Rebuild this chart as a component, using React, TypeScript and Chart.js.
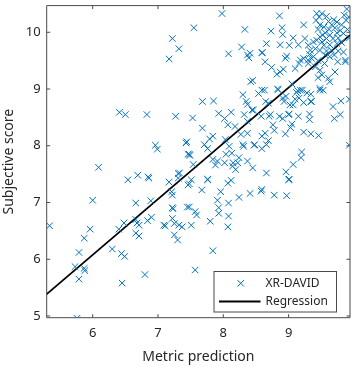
import React, { useEffect, useRef } from "react";
import { Chart, registerables } from "chart.js";

Chart.register(...registerables);

// XR-DAVID points: [metric prediction, subjective score]
const xrDavidPoints: [number, number][] = [
  [5.34, 6.59], [6.0, 7.04], [5.79, 6.12], [5.87, 6.37], [5.96, 6.53], [5.73, 5.87], [5.87, 5.84], [5.88, 5.8], [5.79, 5.65], [5.76, 4.96],
  [6.3, 6.18], [6.4, 6.53], [6.48, 6.64], [6.44, 6.1], [6.49, 6.05], [6.45, 5.58], [6.66, 6.99], [6.66, 6.7], [6.68, 6.64], [6.71, 6.6],
  [6.66, 6.46], [6.71, 6.41], [6.84, 6.68], [6.9, 6.74], [6.89, 7.03], [6.8, 5.73], [7.09, 6.6], [7.17, 7.36], [7.23, 6.89], [7.22, 7.13],
  [7.21, 7.19], [7.22, 6.72], [7.25, 6.63], [7.25, 6.43], [7.3, 6.34], [6.54, 7.4], [6.69, 7.48], [6.85, 7.45], [6.86, 7.43], [7.31, 7.51],
  [7.31, 7.43], [6.09, 7.62], [6.41, 8.59], [6.5, 8.55], [6.83, 8.55], [6.96, 8.01], [6.99, 7.94], [7.17, 9.53], [7.22, 9.89], [7.32, 9.71],
  [7.27, 8.52], [7.11, 6.59], [7.32, 6.6], [7.22, 6.91], [7.45, 6.92],
  [7.48, 7.33], [7.46, 7.31], [7.67, 7.22], [7.76, 7.4], [8.07, 7.34], [8.12, 7.39], [7.96, 7.19], [8.24, 7.09], [8.41, 7.16], [8.58, 7.2],
  [8.78, 7.13], [8.97, 7.12], [9.0, 7.4], [7.91, 7.04], [8.08, 6.99], [7.93, 6.91], [7.93, 6.81], [8.08, 6.76], [8.07, 6.57], [7.8, 6.67],
  [7.48, 6.92], [7.57, 6.84], [7.59, 6.78], [7.51, 6.6], [7.37, 6.57], [7.84, 6.15], [7.57, 5.81],
  [7.53, 8.49], [7.93, 8.57], [8.02, 8.48], [8.12, 8.59], [8.07, 8.37], [8.18, 8.34], [8.32, 8.55], [8.37, 8.43], [7.68, 8.31], [7.84, 8.17],
  [7.79, 8.12], [7.43, 8.05], [7.71, 8.02], [7.76, 7.95], [8.03, 8.11], [8.27, 8.2], [8.37, 8.22], [8.48, 8.02], [8.3, 8.02], [8.09, 7.99],
  [8.13, 7.87], [8.04, 7.85], [8.22, 7.7], [8.14, 7.64], [8.19, 7.58], [8.02, 7.7], [7.91, 7.73], [7.48, 7.85], [7.33, 7.52], [7.76, 7.41],
  [8.45, 7.61], [7.49, 7.83], [7.54, 7.67], [7.51, 7.4], [7.88, 7.66], [7.84, 7.76], [8.24, 7.79], [8.31, 7.99], [8.37, 7.73], [8.47, 8.01],
  [8.15, 7.7], [7.44, 8.07], [7.46, 7.85], [7.68, 8.78], [7.85, 8.79], [8.3, 8.9], [8.35, 8.78], [8.37, 8.73], [8.46, 8.63], [8.42, 9.13],
  [8.45, 9.15], [7.98, 10.33], [7.55, 10.08], [8.33, 10.05], [8.08, 9.62], [8.28, 9.74], [8.37, 9.6], [8.39, 9.55], [8.59, 9.64],
  [8.54, 8.92], [8.63, 8.98], [8.65, 8.78], [8.83, 9.0], [8.91, 8.84], [8.93, 8.78], [8.58, 8.52], [8.7, 8.52], [8.72, 8.55], [8.86, 8.52],
  [8.91, 8.48], [9.01, 8.56], [9.15, 8.52], [9.32, 8.56], [9.32, 8.46], [9.7, 8.48], [9.79, 8.55], [9.93, 8.01], [8.76, 8.37], [8.78, 8.27],
  [8.64, 8.22], [8.59, 8.17], [8.69, 8.09], [8.66, 8.02], [8.59, 7.95], [8.95, 8.21], [9.03, 8.32], [9.05, 8.38], [9.23, 8.24], [9.34, 8.21],
  [9.46, 8.18], [9.2, 7.89], [9.19, 7.79], [9.07, 7.67], [8.96, 7.54], [9.01, 7.41], [8.66, 7.52], [8.59, 7.23], [8.44, 8.63], [8.69, 8.75],
  [9.0, 8.55], [9.07, 8.72], [9.16, 8.84], [9.23, 8.76], [9.34, 8.91], [9.34, 8.78], [9.21, 8.98], [9.14, 8.97], [9.48, 8.98], [9.53, 8.98],
  [9.68, 8.69], [9.8, 8.79], [9.93, 8.82], [9.02, 8.72], [9.12, 8.94], [9.28, 8.93], [8.84, 8.99], [8.96, 8.87], [9.1, 8.82], [9.35, 8.78],
  [8.59, 8.98], [9.48, 9.01], [9.05, 9.09], [9.18, 8.98],
  [8.86, 10.29], [8.73, 10.02], [8.9, 10.08], [8.91, 9.96], [9.23, 10.13], [9.07, 9.9], [9.15, 9.78], [9.01, 9.77], [8.87, 9.78], [8.66, 9.8],
  [8.6, 9.64], [8.41, 9.63], [8.97, 9.58], [8.64, 9.48], [9.43, 10.33], [9.51, 10.33], [9.47, 10.27], [9.42, 10.21], [9.48, 10.13], [9.54, 10.09],
  [9.61, 10.19], [9.66, 10.13], [9.74, 10.18], [9.71, 10.08], [9.62, 10.05], [9.56, 9.99], [9.89, 10.41], [9.85, 10.3], [9.92, 10.27], [9.88, 10.21],
  [9.81, 10.13], [9.79, 10.03], [9.74, 9.99], [9.84, 9.98], [9.63, 9.95], [9.58, 9.89], [9.68, 9.89], [9.76, 9.9], [9.48, 9.92], [9.43, 9.86],
  [9.51, 9.83], [9.54, 9.77], [9.63, 9.78], [9.74, 9.8], [9.81, 9.82], [9.38, 9.83], [9.3, 9.77], [9.25, 9.89], [9.33, 9.68], [9.41, 9.71],
  [9.48, 9.68], [9.58, 9.67], [9.66, 9.68], [9.76, 9.67], [9.32, 9.61], [9.38, 9.57], [9.3, 9.51], [9.23, 9.54], [9.18, 9.51], [9.84, 9.65],
  [9.87, 9.51], [9.63, 9.57], [8.74, 9.38], [8.95, 9.54], [8.92, 9.35], [8.87, 9.3], [8.82, 9.26], [9.1, 9.36], [9.16, 9.45], [9.3, 9.45],
  [9.35, 9.54], [9.41, 9.39], [9.48, 9.33], [9.51, 9.25], [9.45, 9.2], [9.63, 9.13], [9.61, 9.19], [9.71, 9.3], [9.75, 9.48], [9.87, 9.48],
  [9.45, 10.05], [9.52, 9.95], [9.69, 10.22], [9.58, 10.28], [9.9, 10.05], [9.93, 9.9], [9.56, 9.6], [9.7, 9.6], [9.45, 9.5], [9.55, 9.45],
];

// Regression line endpoints (fitted line across the axes)
const regressionX = [5.296, 9.94];
const regressionY = [5.385, 9.95];

const xTickValues = [6, 7, 8, 9];
const yTickValues = [5, 6, 7, 8, 9, 10];

const X_MIN = 5.296;
const X_MAX = 9.94;
const Y_MIN = 4.97;
const Y_MAX = 10.47;

const FONT = "'Noto Sans', 'DejaVu Sans', sans-serif";
const AXIS_COLOR = "#4a4a4a";
const TEXT_COLOR = "#262626";
const BLUE = "#0072BD";

const boxPlugin = {
  id: "matlabBox",
  beforeDatasetsDraw(chart: any) {
    const { ctx, chartArea } = chart;
    const { left, right, top, bottom } = chartArea;
    const xs = chart.scales.x;
    const ys = chart.scales.y;
    const tl = 3.5;
    ctx.save();
    ctx.strokeStyle = AXIS_COLOR;
    ctx.lineWidth = 1;
    ctx.beginPath();
    ctx.rect(left, top, right - left, bottom - top);
    for (const v of xTickValues) {
      const px = xs.getPixelForValue(v);
      ctx.moveTo(px, bottom);
      ctx.lineTo(px, bottom - tl);
      ctx.moveTo(px, top);
      ctx.lineTo(px, top + tl);
    }
    for (const v of yTickValues) {
      const py = ys.getPixelForValue(v);
      ctx.moveTo(left, py);
      ctx.lineTo(left + tl, py);
      ctx.moveTo(right, py);
      ctx.lineTo(right - tl, py);
    }
    ctx.stroke();
    ctx.restore();
  },
};

const legendPlugin = {
  id: "matlabLegend",
  afterDraw(chart: any) {
    const { ctx, chartArea } = chart;
    const w = 122.5;
    const h = 40.5;
    const x0 = chartArea.right - 13.5 - w;
    const y0 = chartArea.bottom - 5.7 - h;
    const ds = chart.data.datasets;
    ctx.save();
    ctx.fillStyle = "#ffffff";
    ctx.fillRect(x0, y0, w, h);
    ctx.strokeStyle = AXIS_COLOR;
    ctx.lineWidth = 1;
    ctx.strokeRect(x0, y0, w, h);

    const r1 = y0 + 11.8;
    const mx = x0 + 26.7;
    const a = 3.2;
    ctx.strokeStyle = ds[0].borderColor;
    ctx.lineWidth = 1;
    ctx.beginPath();
    ctx.moveTo(mx - a, r1 - a);
    ctx.lineTo(mx + a, r1 + a);
    ctx.moveTo(mx - a, r1 + a);
    ctx.lineTo(mx + a, r1 - a);
    ctx.stroke();

    const r2 = y0 + 30;
    ctx.strokeStyle = ds[1].borderColor;
    ctx.lineWidth = 1.8;
    ctx.beginPath();
    ctx.moveTo(x0 + 5, r2);
    ctx.lineTo(x0 + 46.5, r2);
    ctx.stroke();

    ctx.fillStyle = TEXT_COLOR;
    ctx.font = `12px ${FONT}`;
    ctx.textBaseline = "middle";
    ctx.textAlign = "left";
    ctx.fillText(ds[0].label, x0 + 51.5, r1);
    ctx.fillText(ds[1].label, x0 + 51.5, r2);
    ctx.restore();
  },
};

export default function App() {
  const ref = useRef<HTMLCanvasElement>(null);

  useEffect(() => {
    if (!ref.current) return;
    const chart = new Chart(ref.current, {
      type: "scatter",
      data: {
        datasets: [
          {
            label: "XR-DAVID",
            data: xrDavidPoints.map(([x, y]) => ({ x, y })),
            pointStyle: "crossRot",
            pointRadius: 4.6,
            pointBorderWidth: 1,
            borderColor: BLUE,
            backgroundColor: BLUE,
            showLine: false,
          },
          {
            label: "Regression",
            data: regressionX.map((x, i) => ({ x, y: regressionY[i] })),
            showLine: true,
            borderColor: "#000000",
            backgroundColor: "#000000",
            borderWidth: 1.8,
            pointRadius: 0,
            fill: false,
          },
        ],
      },
      options: {
        animation: false,
        responsive: false,
        maintainAspectRatio: false,
        layout: { padding: { top: 3.7, right: 6, left: 0, bottom: 0 } },
        plugins: {
          legend: { display: false },
          tooltip: { enabled: false },
        },
        scales: {
          x: {
            type: "linear",
            min: X_MIN,
            max: X_MAX,
            afterBuildTicks: (s: any) => {
              s.ticks = xTickValues.map((v) => ({ value: v }));
            },
            afterFit: (s: any) => {
              s.height = 49.3;
              s.paddingLeft = 0;
              s.paddingRight = 0;
            },
            grid: { display: false, drawTicks: false },
            border: { display: false },
            ticks: {
              color: TEXT_COLOR,
              font: { family: FONT, size: 13 },
              padding: 8,
              maxRotation: 0,
            },
            title: {
              display: true,
              text: "Metric prediction",
              color: TEXT_COLOR,
              font: { family: FONT, size: 14 },
              padding: { top: 0, bottom: 2 },
            },
          },
          y: {
            type: "linear",
            min: Y_MIN,
            max: Y_MAX,
            afterBuildTicks: (s: any) => {
              s.ticks = yTickValues.map((v) => ({ value: v }));
            },
            afterFit: (s: any) => {
              s.width = 46.7;
              s.paddingTop = 0;
              s.paddingBottom = 0;
            },
            grid: { display: false, drawTicks: false },
            border: { display: false },
            ticks: {
              color: TEXT_COLOR,
              font: { family: FONT, size: 13 },
              padding: 6,
            },
            title: {
              display: true,
              text: "Subjective score",
              color: TEXT_COLOR,
              font: { family: FONT, size: 14 },
              padding: { top: 1, bottom: 0 },
            },
          },
        },
      },
      plugins: [boxPlugin, legendPlugin],
    });
    return () => chart.destroy();
  }, []);

  return (
    <div style={{ position: "absolute", left: 0, top: 0, width: 356, height: 367, background: "#ffffff" }}>
      <canvas ref={ref} width={356} height={367} style={{ width: 356, height: 367, display: "block" }} />
    </div>
  );
}
